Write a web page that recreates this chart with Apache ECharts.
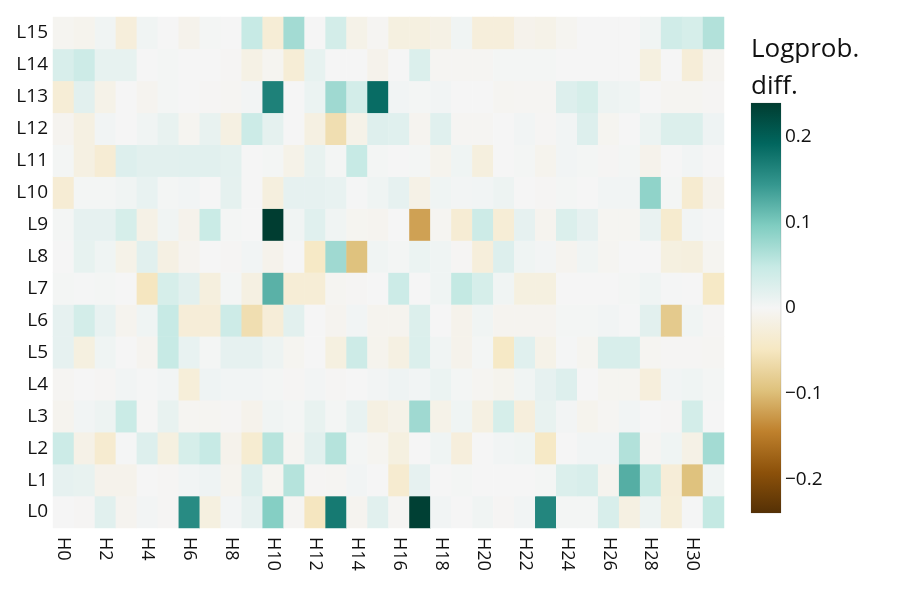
<!DOCTYPE html>
<html>
<head>
<meta charset="utf-8">
<script src="https://cdn.jsdelivr.net/npm/echarts@6/dist/echarts.min.js"></script>
<style>
html, body { margin: 0; padding: 0; background: #fff; }
#heatmap { width: 897px; height: 598px; }
</style>
</head>
<body>
<div id="heatmap"></div>
<script>
var heads = [];
for (var h = 0; h < 32; h++) heads.push('H' + h);
var layers = [];
for (var l = 0; l < 16; l++) layers.push('L' + l);

// one row per layer, 32 heads each
var L0  = [0, -0.002, 0.021, -0.006, 0.003, -0.002, 0.155, -0.02, 0.003, 0.016, 0.092, -0.003, -0.05, 0.172, -0.006, 0.021, -0.003, 0.235, 0.004, 0, 0.005, -0.002, 0.004, 0.16, 0.002, 0.002, 0.03, -0.018, 0.008, -0.027, 0.001, 0.05];
var L1  = [0.016, 0.014, -0.01, -0.01, 0, -0.002, 0.004, 0.007, -0.007, 0.025, -0.005, 0.06, -0.002, -0.003, 0.004, 0, -0.035, 0.016, 0, 0.002, 0, 0, 0, 0.002, 0.027, 0.03, -0.007, 0.123, 0.05, -0.028, -0.095, 0.006];
var L2  = [0.043, -0.013, -0.035, 0.001, 0.025, -0.02, 0.032, 0.048, -0.01, -0.034, 0.058, -0.004, 0.02, 0.06, 0.002, -0.005, -0.02, 0, 0.006, -0.024, 0, 0.004, 0.006, -0.045, 0, 0.004, 0.004, 0.062, -0.003, 0.006, -0.014, 0.072];
var L3  = [-0.007, 0.004, 0.008, 0.045, -0.001, 0.014, -0.004, -0.004, -0.002, -0.01, 0.005, 0.002, 0.014, 0.002, 0.013, -0.018, -0.012, 0.075, -0.012, 0.006, -0.018, 0.032, -0.024, 0.014, 0.003, -0.008, -0.003, 0.004, 0, -0.002, 0.035, 0];
var L4  = [-0.003, 0, -0.002, 0.004, 0.001, 0.004, -0.027, 0.007, 0.004, 0.004, 0.002, -0.002, 0.003, -0.002, 0, 0.003, 0.007, 0.004, 0.01, 0.002, -0.004, -0.008, 0.005, 0.016, 0.025, 0, -0.005, -0.005, -0.024, 0.004, 0.006, 0.002];
var L5  = [0.016, -0.02, 0.006, 0, -0.006, 0.048, 0.013, 0.002, 0.016, 0.016, 0.008, -0.005, 0, -0.02, 0.042, -0.008, -0.018, 0.027, 0.005, -0.01, 0.002, -0.045, 0.022, -0.012, 0.001, -0.005, 0.03, 0.03, -0.004, -0.002, -0.002, -0.003];
var L6  = [0.016, 0.035, 0.013, -0.007, 0.006, 0.048, -0.028, -0.028, 0.042, -0.06, -0.028, 0.02, 0, -0.006, 0.004, -0.007, -0.007, 0.026, 0, -0.01, 0.005, -0.006, -0.006, -0.006, 0.002, 0.002, 0.004, 0.001, 0.02, -0.085, 0.005, -0.002];
var L7  = [0.002, 0.001, 0.002, 0, -0.05, 0.032, 0.02, -0.022, 0.002, -0.018, 0.12, -0.03, -0.03, -0.004, -0.002, 0, 0.043, 0, 0.006, 0.05, 0.032, 0.005, -0.02, -0.02, 0, 0, 0, 0.002, 0.006, 0.001, 0, -0.045];
var L8  = [0, 0.015, 0.006, -0.012, 0.021, -0.017, -0.006, 0, -0.002, 0.004, -0.01, 0, -0.045, 0.075, -0.095, 0.005, 0.002, 0.01, 0.006, -0.002, -0.025, 0.025, 0.006, 0.003, -0.006, 0.005, -0.004, 0, 0, -0.02, -0.022, -0.005];
var L9  = [0.002, 0.016, 0.016, 0.032, -0.014, 0.005, -0.01, 0.045, 0.002, 0, 0.238, 0.005, 0.022, 0.005, -0.005, -0.006, 0, -0.12, -0.004, -0.032, 0.042, -0.03, 0.016, -0.007, 0.027, 0.016, -0.004, -0.004, 0.012, -0.036, 0.004, 0.001];
var L10 = [-0.032, 0.002, 0.002, 0.005, 0.013, 0.002, 0.004, 0, 0.017, 0, -0.022, 0.016, 0.016, 0.013, 0.001, 0.006, 0.016, -0.014, 0.006, 0.003, 0.004, 0.008, 0, -0.002, 0.002, 0, 0.004, 0.004, 0.085, 0.002, -0.035, -0.01];
var L11 = [0.002, -0.018, -0.032, 0.025, 0.02, 0.02, 0.021, 0.021, 0.018, 0, 0.002, -0.012, 0.014, 0.002, 0.048, 0.002, 0, 0.002, -0.008, 0.006, -0.022, 0, 0.002, -0.008, 0.004, 0.002, -0.002, 0.002, -0.01, 0, 0.004, 0];
var L12 = [-0.006, -0.018, 0.004, 0, 0.005, 0.014, -0.005, 0.014, -0.018, 0.043, 0.017, 0, -0.018, -0.06, -0.012, 0.024, 0.022, -0.006, 0.022, -0.003, -0.003, 0, 0.004, -0.002, 0.004, 0.025, -0.005, 0, 0.009, 0.026, 0.026, 0.007];
var L13 = [-0.03, 0.02, -0.012, 0, -0.006, 0.002, 0, -0.002, -0.003, 0.003, 0.165, 0, 0.01, 0.075, 0.035, 0.185, 0.004, 0.002, 0.004, 0, 0, -0.004, -0.003, -0.003, 0.025, 0.032, 0.008, 0.006, 0, -0.004, -0.004, -0.002];
var L14 = [0.03, 0.042, 0.015, 0.015, 0, 0.002, 0, 0, -0.002, -0.015, -0.005, -0.03, 0.015, 0, 0, -0.01, 0, 0.027, -0.003, -0.003, -0.003, 0.002, 0.002, 0.002, 0, 0, 0, 0, -0.02, 0, -0.028, -0.006];
var L15 = [-0.005, -0.008, 0.005, -0.025, 0.005, 0, -0.01, 0.002, 0, 0.048, -0.03, 0.072, 0, 0.035, -0.012, -0.003, -0.02, -0.02, -0.015, 0.005, -0.025, -0.025, -0.01, -0.012, -0.005, 0, 0, 0, 0.005, 0.038, 0.032, 0.062];

var colorTicks = [0.2, 0.1, 0, -0.1, -0.2];
var tickLabels = ['0.2', '0.1', '0', '\u22120.1', '\u22120.2'];
var vLimit = 0.239;

var rows = [L0, L1, L2, L3, L4, L5, L6, L7, L8, L9, L10, L11, L12, L13, L14, L15];
var cells = [];
rows.forEach(function(row, y) {
	row.forEach(function(v, x) {
		cells.push([x, y, v]);
	});
});

// BrBG, low to high
var brbg = ['#543005', '#8c510a', '#bf812d', '#dfc27d', '#f6e8c3', '#f5f5f5',
		'#c7eae5', '#80cdc1', '#35978f', '#01665e', '#003c30'];

var fontName = 'Open Sans';
var cbLeft = 751, cbTop = 103, cbWidth = 30, cbHeight = 410;

// colour bar drawn by hand so the ticks can sit where the reference has them
var stops = brbg.slice().reverse().map(function(c, i) {
	return { offset : i / (brbg.length - 1), color : c };
});
var graphics = [ {
	type : 'rect',
	shape : { x : cbLeft, y : cbTop, width : cbWidth, height : cbHeight },
	style : {
		fill : new echarts.graphic.LinearGradient(0, 0, 0, 1, stops),
		stroke : 'rgba(68,68,68,0.15)',
		lineWidth : 1
	},
	silent : true
}, {
	type : 'text',
	x : cbLeft,
	y : 31,
	style : {
		text : 'Logprob.\ndiff.',
		font : '26px "' + fontName + '"',
		lineHeight : 37,
		fill : '#111'
	}
} ];
colorTicks.forEach(function(t, i) {
	graphics.push({
		type : 'text',
		x : cbLeft + cbWidth + 4,
		y : cbTop + (vLimit - t) / (2 * vLimit) * cbHeight,
		style : {
			text : tickLabels[i],
			font : '19px "' + fontName + '"',
			fill : '#111',
			verticalAlign : 'middle'
		}
	});
});

var option = {
	animation : false,
	backgroundColor : '#fff',
	tooltip : {
		show : false
	},
	grid : {
		left : 53,
		right : 173,
		top : 17,
		bottom : 70
	},
	xAxis : {
		type : 'category',
		data : heads,
		axisLine : {
			show : false
		},
		axisTick : {
			show : false
		},
		axisLabel : {
			interval : 1,
			rotate : -90,
			margin : 9,
			fontSize : 18,
			fontFamily : fontName,
			color : '#111'
		}
	},
	yAxis : {
		type : 'category',
		data : layers,
		axisLine : {
			show : false
		},
		axisTick : {
			show : false
		},
		axisLabel : {
			margin : 5,
			fontSize : 19,
			fontFamily : fontName,
			color : '#111'
		}
	},
	visualMap : {
		type : 'continuous',
		show : false,
		min : -vLimit,
		max : vLimit,
		inRange : {
			color : brbg
		}
	},
	graphic : graphics,
	series : [ {
		type : 'heatmap',
		data : cells,
		itemStyle : {
			borderWidth : 0
		},
		emphasis : {
			disabled : true
		}
	} ]
};

var chart = echarts.init(document.getElementById('heatmap'));
chart.setOption(option);
</script>
</body>
</html>
